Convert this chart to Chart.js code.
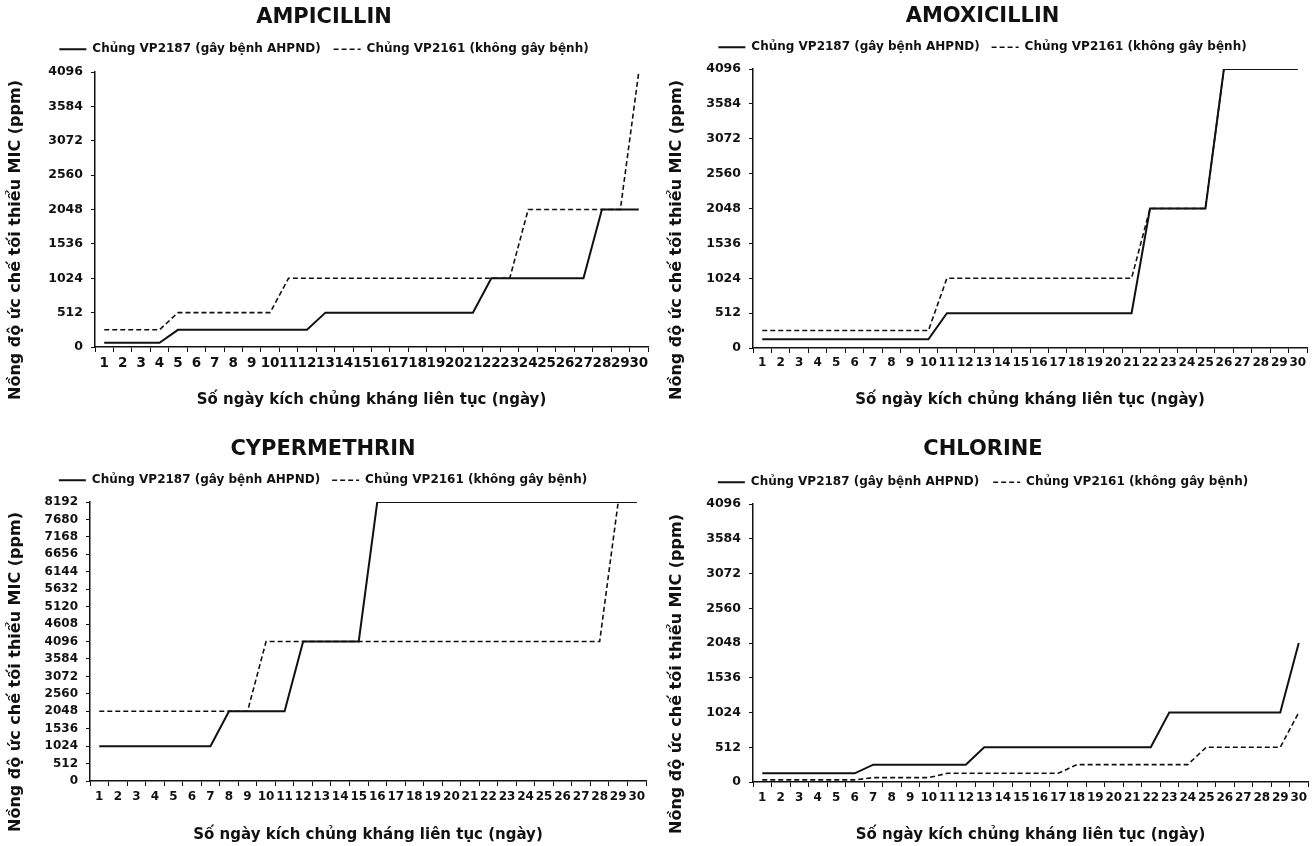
<!DOCTYPE html>
<html>
<head>
<meta charset="utf-8">
<script src="https://cdn.jsdelivr.net/npm/chart.js@4/dist/chart.umd.min.js"></script>
<style>
  html, body { margin: 0; padding: 0; background: #fff; }
  #wrap { position: relative; width: 1316px; height: 846px; overflow: hidden; background: #fff; }
  canvas.panel { position: absolute; }
</style>
</head>
<body>
<div id="wrap">
  <canvas id="amp" class="panel" width="656" height="423" style="left:0px;top:0px"></canvas>
  <canvas id="amox" class="panel" width="658" height="423" style="left:658px;top:0px"></canvas>
  <canvas id="cyp" class="panel" width="656" height="423" style="left:0px;top:423px"></canvas>
  <canvas id="chl" class="panel" width="658" height="423" style="left:658px;top:423px"></canvas>
</div>
<script>
// ---- data -------------------------------------------------------------
const days = ['1','2','3','4','5','6','7','8','9','10','11','12','13','14','15',
              '16','17','18','19','20','21','22','23','24','25','26','27','28','29','30'];

const seriesNames = ['Chủng VP2187 (gây bệnh AHPND)', 'Chủng VP2161 (không gây bệnh)'];
const xAxisTitle = 'Số ngày kích chủng kháng liên tục (ngày)';
const yAxisTitle = 'Nồng độ ức chế tối thiểu MIC (ppm)';

// MIC (ppm) per day
const ampicillinVP2187 = [64, 64, 64, 64, 256, 256, 256, 256, 256, 256, 256, 256, 512, 512, 512,
                          512, 512, 512, 512, 512, 512, 1024, 1024, 1024, 1024, 1024, 1024, 2048, 2048, 2048];
const ampicillinVP2161 = [256, 256, 256, 256, 512, 512, 512, 512, 512, 512, 1024, 1024, 1024, 1024, 1024,
                          1024, 1024, 1024, 1024, 1024, 1024, 1024, 1024, 2048, 2048, 2048, 2048, 2048, 2048, 4096];

const amoxicillinVP2187 = [128, 128, 128, 128, 128, 128, 128, 128, 128, 128, 512, 512, 512, 512, 512,
                           512, 512, 512, 512, 512, 512, 2048, 2048, 2048, 2048, 4096, 4096, 4096, 4096, 4096];
const amoxicillinVP2161 = [256, 256, 256, 256, 256, 256, 256, 256, 256, 256, 1024, 1024, 1024, 1024, 1024,
                           1024, 1024, 1024, 1024, 1024, 1024, 2048, 2048, 2048, 2048, 4096, 4096, 4096, 4096, 4096];

const cypermethrinVP2187 = [1024, 1024, 1024, 1024, 1024, 1024, 1024, 2048, 2048, 2048, 2048, 4096, 4096, 4096, 4096,
                            8192, 8192, 8192, 8192, 8192, 8192, 8192, 8192, 8192, 8192, 8192, 8192, 8192, 8192, 8192];
const cypermethrinVP2161 = [2048, 2048, 2048, 2048, 2048, 2048, 2048, 2048, 2048, 4096, 4096, 4096, 4096, 4096, 4096,
                            4096, 4096, 4096, 4096, 4096, 4096, 4096, 4096, 4096, 4096, 4096, 4096, 4096, 8192, 8192];

const chlorineVP2187 = [128, 128, 128, 128, 128, 128, 256, 256, 256, 256, 256, 256, 512, 512, 512,
                        512, 512, 512, 512, 512, 512, 512, 1024, 1024, 1024, 1024, 1024, 1024, 1024, 2048];
const chlorineVP2161 = [32, 32, 32, 32, 32, 32, 64, 64, 64, 64, 128, 128, 128, 128, 128,
                        128, 128, 256, 256, 256, 256, 256, 256, 256, 512, 512, 512, 512, 512, 1024];

// y-axis ranges (max, step)
const yRangeStandard = [4096, 512];
const yRangeCypermethrin = [8192, 512];

// ---- panel layout -----------------------------------------------------
const panels = [
  { id: 'amp', title: 'AMPICILLIN', solid: ampicillinVP2187, dashed: ampicillinVP2161, range: yRangeStandard,
    w: 656, h: 423, area: { left: 95, right: 648, top: 72, bottom: 347 },
    titlePad: 5, legendPad: 13, xTickSize: 13.5, xTickPad: 3, xTitlePad: 14, yTickSize: 12.5, cap: { x: 16, y: 240 } },
  { id: 'amox', title: 'AMOXICILLIN', solid: amoxicillinVP2187, dashed: amoxicillinVP2161, range: yRangeStandard,
    w: 658, h: 423, area: { left: 95, right: 649, top: 69, bottom: 348 },
    titlePad: 4, legendPad: 12, xTickSize: 12, xTickPad: 3, xTitlePad: 14, yTickSize: 12.5, cap: { x: 19, y: 240 } },
  { id: 'cyp', title: 'CYPERMETHRIN', solid: cypermethrinVP2187, dashed: cypermethrinVP2161, range: yRangeCypermethrin,
    w: 656, h: 423, area: { left: 90, right: 646, top: 79, bottom: 358 },
    titlePad: 14, legendPad: 12, xTickSize: 12, xTickPad: 4, xTitlePad: 2, yTickSize: 12, cap: { x: 16, y: 249 } },
  { id: 'chl', title: 'CHLORINE', solid: chlorineVP2187, dashed: chlorineVP2161, range: yRangeStandard,
    w: 658, h: 423, area: { left: 95, right: 650, top: 81, bottom: 359 },
    titlePad: 14, legendPad: 14, xTickSize: 12, xTickPad: 4, xTitlePad: 2, yTickSize: 12.5, cap: { x: 19, y: 251 } }
];

Chart.defaults.font.family = '"DejaVu Sans", Verdana, sans-serif';
Chart.defaults.font.weight = 'bold';
Chart.defaults.color = '#111';

const TITLE_SIZE = 21;

// Legend box height is stretched so the plot starts where the layout asks.
const legendHeight = {
  id: 'legendHeight',
  beforeLayout(chart, args, opts) {
    const lg = chart.legend;
    if (!lg || lg._heightPatched) return;
    const baseFit = lg.fit.bind(lg);
    lg.fit = function () {
      baseFit();
      this.height = opts.height;
    };
    lg._heightPatched = true;
  }
};

// Rotated y-axis caption placed beside the value axis.
const yCaption = {
  id: 'yCaption',
  afterDraw(chart, args, opts) {
    const ctx = chart.ctx;
    ctx.save();
    ctx.translate(opts.x, opts.y);
    ctx.rotate(-Math.PI / 2);
    ctx.font = 'bold 16px "DejaVu Sans", Verdana, sans-serif';
    ctx.fillStyle = '#111';
    ctx.textAlign = 'center';
    ctx.textBaseline = 'middle';
    ctx.fillText(opts.text, 0, 0);
    ctx.restore();
  }
};

function buildChart(p) {
  const titleHeight = p.titlePad + TITLE_SIZE * 1.2;
  const ctx = document.getElementById(p.id).getContext('2d');
  return new Chart(ctx, {
    type: 'line',
    data: {
      labels: days,
      datasets: [
        { label: seriesNames[0], data: p.solid, borderColor: '#111', borderWidth: 2,
          pointRadius: 0, pointHoverRadius: 0, tension: 0, fill: false },
        { label: seriesNames[1], data: p.dashed, borderColor: '#111', borderWidth: 1.6,
          borderDash: [5, 3], pointRadius: 0, pointHoverRadius: 0, tension: 0, fill: false }
      ]
    },
    options: {
      responsive: false,
      animation: false,
      devicePixelRatio: 1,
      events: [],
      layout: { padding: { left: 0, top: 0, bottom: 0, right: p.w - p.area.right } },
      plugins: {
        title: {
          display: true, text: p.title, color: '#111',
          font: { size: TITLE_SIZE, weight: 'bold' },
          padding: { top: p.titlePad, bottom: 0 }
        },
        legend: {
          display: true, position: 'top', align: 'center',
          labels: {
            usePointStyle: true, pointStyleWidth: 27, boxHeight: 12,
            padding: p.legendPad, color: '#111',
            font: { size: 12, weight: 'bold' },
            generateLabels(chart) {
              return chart.data.datasets.map((ds, i) => ({
                text: ds.label,
                fillStyle: 'rgba(0,0,0,0)',
                strokeStyle: ds.borderColor,
                lineWidth: ds.borderWidth,
                lineDash: ds.borderDash || [],
                pointStyle: 'line',
                hidden: false,
                fontColor: '#111',
                datasetIndex: i
              }));
            }
          }
        },
        legendHeight: { height: p.area.top - titleHeight },
        yCaption: { text: yAxisTitle, x: p.cap.x, y: p.cap.y },
        tooltip: { enabled: false }
      },
      scales: {
        x: {
          type: 'category',
          offset: true,
          grid: { display: true, offset: true, drawOnChartArea: false, drawTicks: true,
                  tickLength: 5, color: '#111', lineWidth: 1 },
          border: { display: true, color: '#111', width: 1.5 },
          ticks: { autoSkip: false, maxRotation: 0, minRotation: 0, padding: p.xTickPad,
                   color: '#111', font: { size: p.xTickSize, weight: 'bold' } },
          title: { display: true, text: xAxisTitle, color: '#111',
                   font: { size: 15, weight: 'bold' }, padding: { top: 0, bottom: p.xTitlePad } },
          afterFit(scale) { scale.height = p.h - p.area.bottom; }
        },
        y: {
          type: 'linear',
          min: 0, max: p.range[0],
          grid: { display: true, drawOnChartArea: false, drawTicks: true,
                  tickLength: 4, color: '#111', lineWidth: 1 },
          border: { display: true, color: '#111', width: 1.5 },
          ticks: { stepSize: p.range[1], autoSkip: false, padding: 8, color: '#111',
                   font: { size: p.yTickSize, weight: 'bold' },
                   callback: (v) => String(v) },
          afterFit(scale) { scale.width = p.area.left; }
        }
      }
    },
    plugins: [legendHeight, yCaption]
  });
}

panels.forEach(buildChart);
</script>
</body>
</html>
